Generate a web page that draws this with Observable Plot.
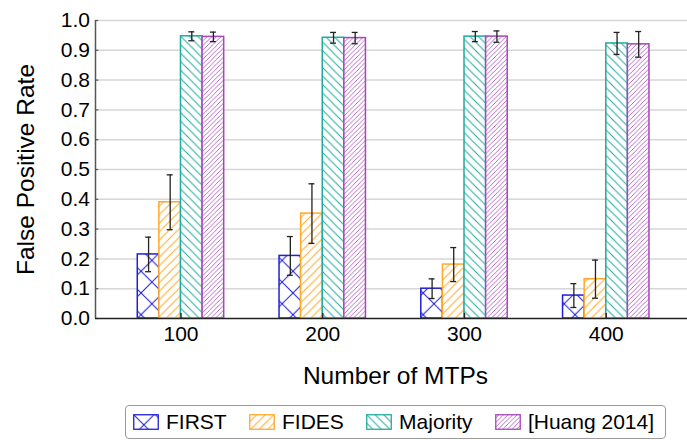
<!DOCTYPE html>
<html>
<head>
<meta charset="utf-8">
<script src="https://cdn.jsdelivr.net/npm/d3@7"></script>
<script src="https://cdn.jsdelivr.net/npm/@observablehq/plot@0.6"></script>
<style>
  html, body { margin: 0; padding: 0; background: #fff; }
  #wrap { position: relative; width: 687px; height: 440px; font-family: "Liberation Sans", Arial, sans-serif; }
  #legend { position: absolute; left: 125px; top: 405px; width: 541px; height: 34px; box-sizing: border-box;
            border: 1px solid #9a9a9a; border-radius: 4px; display: flex; align-items: center; padding-left: 7px; gap: 22.3px; }
  .item { display: flex; align-items: center; gap: 7px; font-size: 21px; color: #000; }
  .item svg { display: block; }
</style>
</head>
<body>
<div id="wrap"><div id="chart"></div><div id="legend"></div></div>
<script>
// ---- data ----
const mtps = [100, 200, 300, 400];
const series = ["FIRST", "FIDES", "Majority", "[Huang 2014]"];
const colors = ["#2020d8", "#ffa928", "#22aaa0", "#a647b8"];
const firstMean = [0.215, 0.210, 0.100, 0.077];
const firstErr = [0.058, 0.065, 0.033, 0.040];
const fidesMean = [0.390, 0.352, 0.181, 0.132];
const fidesErr = [0.092, 0.100, 0.057, 0.064];
const majorityMean = [0.947, 0.942, 0.946, 0.923];
const majorityErr = [0.015, 0.018, 0.017, 0.037];
const huangMean = [0.945, 0.941, 0.946, 0.920];
const huangErr = [0.016, 0.019, 0.019, 0.043];
const yTicks = [0, 0.1, 0.2, 0.3, 0.4, 0.5, 0.6, 0.7, 0.8, 0.9, 1.0];
const xLabel = "Number of MTPs";
const yLabel = "False Positive Rate";

const means = [firstMean, fidesMean, majorityMean, huangMean];
const errs = [firstErr, fidesErr, majorityErr, huangErr];

// ---- layout ----
const W = 687, H = 400;
const xDomain = [39.7, 457.3];
const barW = 15.24;   // bar width in x-units
const capW = 2.1;     // error cap half width in x-units
const yTickLen = 2.3; // inward y tick length in x-units

const rows = [];
series.forEach((s, si) => {
  mtps.forEach((m, i) => {
    const x1 = m + (si - 2) * barW, x2 = m + (si - 1) * barW;
    rows.push({series: s, si, mtp: m, mean: means[si][i], err: errs[si][i],
      x1, x2, xc: (x1 + x2) / 2, lo: means[si][i] - errs[si][i], hi: means[si][i] + errs[si][i]});
  });
});

// pattern definitions (shared by chart and legend)
function addPatterns(defs, prefix) {
  const specs = [
    {size: 21.7, paths: ["M0,0L21.7,21.7", "M21.7,0L0,21.7"], w: 1},
    {size: 8.5, paths: ["M-2,2L2,-2", "M0,8.5L8.5,0", "M6.5,10.5L10.5,6.5"], w: 1},
    {size: 8.5, paths: ["M-2,6.5L2,10.5", "M0,0L8.5,8.5", "M6.5,-2L10.5,2"], w: 1},
    {size: 4.6, paths: ["M-1,1L1,-1", "M0,4.6L4.6,0", "M3.6,5.6L5.6,3.6"], w: 0.8}
  ];
  specs.forEach((sp, si) => {
    const p = defs.append("pattern").attr("id", prefix + si)
      .attr("patternUnits", "userSpaceOnUse").attr("width", sp.size).attr("height", sp.size);
    p.append("rect").attr("width", sp.size).attr("height", sp.size).attr("fill", "#fff");
    sp.paths.forEach(d => p.append("path").attr("d", d).attr("stroke", colors[si])
      .attr("stroke-width", sp.w).attr("fill", "none"));
  });
}

const barMarks = series.map((s, si) => Plot.rectY(rows.filter(r => r.si === si), {
  x1: "x1", x2: "x2", y1: 0, y2: "mean",
  fill: `url(#pat${si})`, stroke: colors[si], strokeWidth: 1.5
}));

const chart = Plot.plot({
  width: W, height: H,
  marginLeft: 95, marginRight: 0, marginTop: 20, marginBottom: 82,
  style: {fontFamily: '"Liberation Sans", Arial, sans-serif', fontSize: "21px", color: "#000", background: "#fff"},
  x: {type: "linear", domain: xDomain},
  y: {domain: [0, 1]},
  marks: [
    Plot.ruleY(yTicks.filter(t => t > 0), {stroke: "#d6d6d6", strokeWidth: 1.5}),
    ...barMarks,
    Plot.ruleX(rows, {x: "xc", y1: "lo", y2: "hi", stroke: "#222", strokeWidth: 1.3}),
    Plot.ruleY(rows, {y: "lo", x1: d => d.xc - capW, x2: d => d.xc + capW, stroke: "#222", strokeWidth: 1.3}),
    Plot.ruleY(rows, {y: "hi", x1: d => d.xc - capW, x2: d => d.xc + capW, stroke: "#222", strokeWidth: 1.3}),
    Plot.ruleX([xDomain[0]], {stroke: "#555", strokeWidth: 1.5}),
    Plot.ruleY(yTicks, {x1: xDomain[0], x2: xDomain[0] + yTickLen, stroke: "#555", strokeWidth: 1.2}),
    Plot.ruleY([0], {stroke: "#222", strokeWidth: 1.5}),
    Plot.ruleX(mtps, {y1: 0, y2: 0.017, stroke: "#222", strokeWidth: 1.3}),
    Plot.axisY({ticks: yTicks, tickFormat: d3.format(".1f"), tickSize: 0, tickPadding: 5.5, label: null}),
    Plot.axisX({ticks: mtps, tickFormat: d => String(d), tickSize: 0, tickPadding: 8, label: null}),
    Plot.text([xLabel], {frameAnchor: "bottom", lineAnchor: "top", dy: 48, dx: 4, fontSize: 24.5, fill: "#000"}),
    Plot.text([yLabel], {frameAnchor: "left", textAnchor: "middle", lineAnchor: "middle", rotate: -90, dx: -69, fontSize: 24.5, fill: "#000"})
  ]
});

const defs = d3.select(chart).insert("defs", ":first-child");
addPatterns(defs, "pat");
document.getElementById("chart").appendChild(chart);

// legend
const legend = d3.select("#legend");
series.forEach((s, si) => {
  const item = legend.append("div").attr("class", "item");
  const sv = item.append("svg").attr("width", 26).attr("height", 16);
  addPatterns(sv.append("defs"), "lg" + si + "_");
  sv.append("rect").attr("x", 0.75).attr("y", 0.75).attr("width", 24.5).attr("height", 14.5)
    .attr("fill", `url(#lg${si}_${si})`).attr("stroke", colors[si]).attr("stroke-width", 1.3);
  item.append("span").text(s);
});
</script>
</body>
</html>
